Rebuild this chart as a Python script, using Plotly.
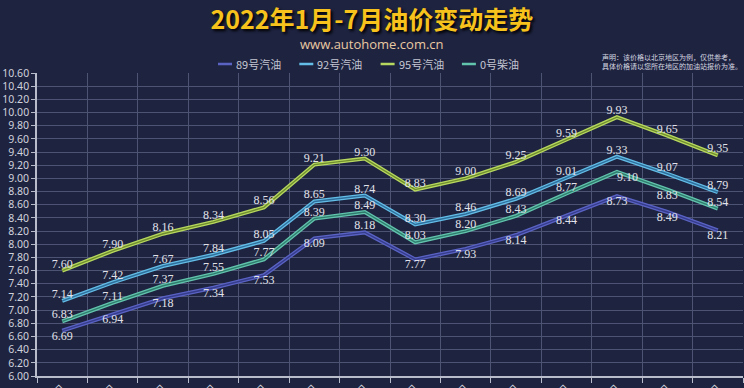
import plotly.graph_objects as go

dates = ["1月1日", "1月17日", "1月28日", "2月16日", "3月3日", "3月17日", "3月31日",
         "4月15日", "4月28日", "5月16日", "5月30日", "6月14日", "6月28日", "7月12日"]
names = ["89号汽油", "92号汽油", "95号汽油", "0号柴油"]
p89 = [6.69, 6.94, 7.18, 7.34, 7.53, 8.09, 8.18, 7.77, 7.93, 8.14, 8.44, 8.73, 8.49, 8.21]
p92 = [7.14, 7.42, 7.67, 7.84, 8.05, 8.65, 8.74, 8.30, 8.46, 8.69, 9.01, 9.33, 9.07, 8.79]
p95 = [7.60, 7.90, 8.16, 8.34, 8.56, 9.21, 9.30, 8.83, 9.00, 9.25, 9.59, 9.93, 9.65, 9.35]
p0 = [6.83, 7.11, 7.37, 7.55, 7.77, 8.39, 8.49, 8.03, 8.20, 8.43, 8.77, 9.10, 8.83, 8.54]
series = [p89, p92, p95, p0]

outer = ["#5a63c4", "#63bde6", "#b7d85e", "#62c4ad"]
inner = ["#353c8a", "#2f6f9c", "#6f8d2e", "#2f7c6d"]
base_pos = ["bottom center", "top center", "top center", "top center"]
pos_exc = {0: {6: "top center"}, 3: {11: "bottom right", 12: "bottom center"}}

BG = "#1e2340"
fig = go.Figure()
for k, (vals, nm) in enumerate(zip(series, names)):
    fig.add_trace(go.Scatter(x=dates, y=vals, mode="lines", name=nm,
                             line=dict(color=outer[k], width=4), showlegend=False,
                             hoverinfo="skip"))
    fig.add_trace(go.Scatter(x=dates, y=vals, mode="lines", name=nm,
                             line=dict(color=inner[k], width=1.4), showlegend=False))
for k, vals in enumerate(series):
    pos = [pos_exc.get(k, {}).get(i, base_pos[k]) for i in range(len(vals))]
    fig.add_trace(go.Scatter(x=dates, y=vals, mode="text", text=[f"{v:.2f}" for v in vals],
                             textposition=pos, showlegend=False, hoverinfo="skip",
                             textfont=dict(family="Liberation Serif, Times New Roman, serif",
                                           size=12, color="#e2e3ea")))

# manual legend
annotations = []
shapes = []
lx0 = 218
for k, nm in enumerate(names):
    x0 = lx0 + k * 81.3
    shapes.append(dict(type="line", xref="paper", yref="paper",
                       x0=(x0 - 37) / 706, x1=(x0 + 14 - 37) / 706,
                       y0=(388 - 64 - 12) / 303, y1=(388 - 64 - 12) / 303,
                       line=dict(color=outer[k], width=2.5)))
    annotations.append(dict(text=nm, xref="paper", yref="paper",
                            x=(x0 + 16 - 37) / 706, y=(388 - 64 - 12) / 303,
                            xanchor="left", yanchor="middle", showarrow=False,
                            font=dict(family="Noto Sans CJK SC", size=11, color="#c4c6d2")))

annotations.append(dict(text="www.autohome.com.cn", xref="paper", yref="paper",
                        x=(372 - 37) / 706, y=(388 - 44 - 12) / 303, xanchor="center",
                        yanchor="middle", showarrow=False,
                        font=dict(family="Open Sans", size=13, color="#e9c9a2")))
annotations.append(dict(text="声明：该价格以北京地区为例，仅供参考，<br>具体价格请以您所在地区的加油站报价为准。",
                        xref="paper", yref="paper", x=(600 - 37) / 706, y=(388 - 62 - 12) / 303,
                        xanchor="left", yanchor="middle", showarrow=False, align="left",
                        font=dict(family="Noto Sans CJK SC", size=7, color="#d6d8e0")))

fig.update_layout(
    width=744, height=388,
    margin=dict(l=37, r=1, t=73, b=12),
    paper_bgcolor=BG, plot_bgcolor=BG,
    title=dict(text="2022年1月-7月油价变动走势", x=0.5, xref="container", xanchor="center",
               y=1 - 20 / 388, yref="container", yanchor="middle",
               font=dict(family="Noto Sans CJK SC", size=25, color="#f7c21c", weight="bold",
                         shadow="2px 2px 3px #000000")),
    showlegend=False,
    annotations=annotations,
    shapes=shapes,
    xaxis=dict(type="category", range=[-0.5, 13.5], tickson="boundaries", showgrid=True,
               gridcolor="#4d5372", gridwidth=1, showline=True, linecolor="#b8bccb", linewidth=1.5,
               ticks="outside", ticklen=5, tickcolor="#b8bccb", tickangle=-45,
               tickfont=dict(family="Noto Sans CJK SC", size=11, color="#d0d2dc"),
               automargin=False, fixedrange=True),
    yaxis=dict(range=[6, 10.6], dtick=0.2, tick0=6, tickformat=".2f", showgrid=True,
               gridcolor="#4d5372", gridwidth=1, showline=True, linecolor="#b8bccb", linewidth=1.5,
               ticks="outside", ticklen=4, tickcolor="#b8bccb", zeroline=False,
               tickfont=dict(family="Noto Sans", size=10.5, color="#d0d2dc"),
               automargin=False, fixedrange=True),
)
fig.write_html("out.html", config={"displayModeBar": False},
               post_script="document.body.style.margin='0';document.body.style.padding='0';")
